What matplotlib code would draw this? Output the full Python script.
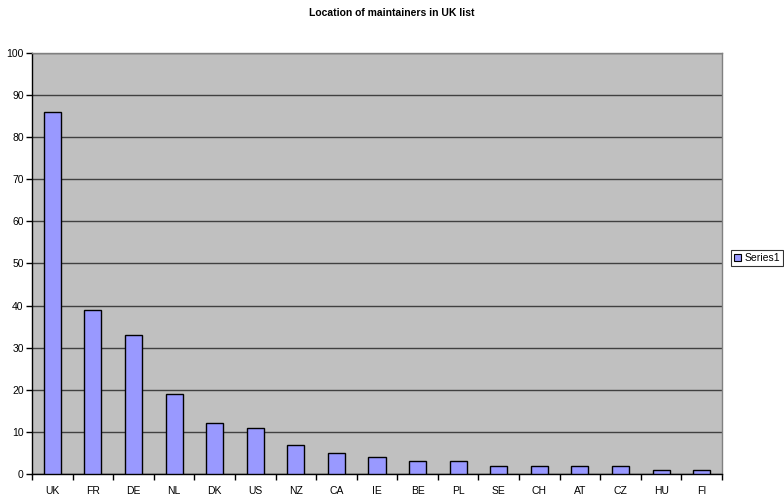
import matplotlib.pyplot as plt
import numpy as np
from matplotlib.patches import Patch

plt.rcParams['font.family'] = ['Liberation Sans', 'DejaVu Sans']

# countries and number of maintainers
countries = ["UK", "FR", "DE", "NL", "DK", "US", "NZ", "CA", "IE", "BE",
             "PL", "SE", "CH", "AT", "CZ", "HU", "FI"]
counts = [86, 39, 33, 19, 12, 11, 7, 5, 4, 3, 3, 2, 2, 2, 2, 1, 1]

x = np.arange(len(countries))

fig = plt.figure(figsize=(7.84, 4.95), dpi=100)
ax = fig.add_axes([32/784, 1 - 474/495, 690/784, 421/495])
ax.set_facecolor("#C0C0C0")

ax.bar(x, counts, 0.42, color="#9999FF", edgecolor="black", linewidth=1, zorder=3)

ax.set_xlim(-0.5, len(countries) - 0.5)
ax.set_ylim(0, 100)
ax.set_yticks(range(0, 101, 10))
ax.yaxis.grid(True, color="#404040", linewidth=1, zorder=1)
ax.set_axisbelow(True)

# category labels between tick marks like excel
ax.set_xticks(x)
ax.set_xticklabels(countries, fontsize=7.5)
ax.tick_params(axis="x", which="major", length=0, pad=9)
ax.set_xticks(np.arange(-0.5, len(countries)), minor=True)
ax.tick_params(axis="x", which="minor", length=4, width=1, direction="out")
ax.tick_params(axis="y", length=4, width=1, direction="out", labelsize=7.5, pad=2)

for side in ["left", "bottom"]:
    ax.spines[side].set_color("black")
    ax.spines[side].set_linewidth(1)
for side in ["top", "right"]:
    ax.spines[side].set_color("#808080")
    ax.spines[side].set_linewidth(1)

fig.text(0.5, 1 - 13/495, "Location of maintainers in UK list", ha="center", va="center",
         fontsize=7.5, fontweight="bold")

handle = Patch(facecolor="#9999FF", edgecolor="black", linewidth=0.8)
leg = fig.legend([handle], ["Series1"], loc="center left", bbox_to_anchor=(731/784, 1 - 258/495),
                 fontsize=7.5, frameon=True, fancybox=False, handlelength=0.7, handleheight=0.7,
                 handletextpad=0.3, borderpad=0.3, borderaxespad=0)
leg.get_frame().set_edgecolor("black")
leg.get_frame().set_linewidth(0.8)

fig.savefig("out.png", dpi=100)
